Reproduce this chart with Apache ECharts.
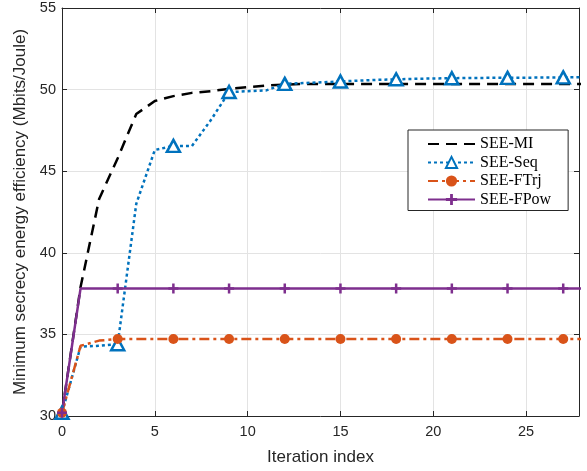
<!DOCTYPE html>
<html>
<head>
<meta charset="utf-8">
<script src="https://cdn.jsdelivr.net/npm/echarts@6/dist/echarts.min.js"></script>
<style>html,body{margin:0;padding:0;background:#fff}#c{width:587px;height:471px}</style>
</head>
<body>
<div id="c"></div>
<script>
var iterations = [0,1,2,3,4,5,6,7,8,9,10,11,12,13,14,15,16,17,18,19,20,21,22,23,24,25,26,27,28];
var seeMI   = [30.2,37.9,43.3,45.8,48.5,49.3,49.6,49.8,49.9,50.05,50.15,50.25,50.3,50.35,50.35,50.35,50.35,50.35,50.35,50.35,50.35,50.35,50.35,50.35,50.35,50.35,50.35,50.35,50.35];
var seeSeq  = [30.2,34.25,34.3,34.4,43.0,46.3,46.55,46.55,48.1,49.85,49.9,49.95,50.35,50.4,50.45,50.5,50.55,50.6,50.63,50.66,50.68,50.7,50.71,50.72,50.72,50.73,50.74,50.75,50.75];
var seeFTrj = [30.2,34.3,34.62,34.72,34.72,34.72,34.72,34.72,34.72,34.72,34.72,34.72,34.72,34.72,34.72,34.72,34.72,34.72,34.72,34.72,34.72,34.72,34.72,34.72,34.72,34.72,34.72,34.72,34.72];
var seeFPow = [30.2,37.82,37.82,37.82,37.82,37.82,37.82,37.82,37.82,37.82,37.82,37.82,37.82,37.82,37.82,37.82,37.82,37.82,37.82,37.82,37.82,37.82,37.82,37.82,37.82,37.82,37.82,37.82,37.82];
var seriesNames = ['SEE-MI','SEE-Seq','SEE-FTrj','SEE-FPow'];
var xTicks = [0,5,10,15,20,25];
var yTicks = [30,35,40,45,50,55];
var markerStep = 3;

function build(vals, marked) {
  return iterations.map(function (x, i) {
    var item = { value: [x, vals[i]] };
    if (!marked || x % markerStep !== 0 || x > 27) item.symbol = 'none';
    return item;
  });
}
var axisColor = '#262626';
var gridColor = '#e3e3e3';
var plusPath = 'path://M3.75,0 H6.25 V3.75 H10 V6.25 H6.25 V10 H3.75 V6.25 H0 V3.75 H3.75 Z';

var chart = echarts.init(document.getElementById('c'), null, { renderer: 'canvas' });
chart.setOption({
  animation: false,
  backgroundColor: '#fff',
  grid: { left: 62, top: 8, right: 8, bottom: 53, containLabel: false },
  xAxis: [{
    type: 'value', min: 0, max: 27.85, interval: 5,
    name: 'Iteration index', nameLocation: 'middle', nameGap: 33,
    nameTextStyle: { fontFamily: 'Liberation Sans', fontSize: 17, color: axisColor },
    axisLine: { show: true, onZero: false, lineStyle: { color: axisColor, width: 1 } },
    axisTick: { show: true, inside: true, length: 5, lineStyle: { color: axisColor } },
    axisLabel: { fontFamily: 'Liberation Sans', fontSize: 14.5, color: axisColor, margin: 8,
      formatter: function (v) { return xTicks.indexOf(v) >= 0 ? String(v) : ''; } },
    splitLine: { show: true, lineStyle: { color: gridColor, width: 1 } }
  }, {
    type: 'value', min: 0, max: 27.85, interval: 5, position: 'top',
    axisLine: { show: true, onZero: false, lineStyle: { color: axisColor, width: 1 } },
    axisTick: { show: true, inside: true, length: 5, lineStyle: { color: axisColor } },
    axisLabel: { show: false }, splitLine: { show: false }
  }],
  yAxis: [{
    type: 'value', min: 30, max: 55, interval: 5,
    name: 'Minimum secrecy energy efficiency (Mbits/Joule)', nameLocation: 'middle', nameGap: 30, nameRotate: 90,
    nameTextStyle: { fontFamily: 'Liberation Sans', fontSize: 17, color: axisColor },
    axisLine: { show: true, onZero: false, lineStyle: { color: axisColor, width: 1 } },
    axisTick: { show: true, inside: true, length: 5, lineStyle: { color: axisColor } },
    axisLabel: { fontFamily: 'Liberation Sans', fontSize: 14.5, color: axisColor, margin: 6,
      formatter: function (v) { return yTicks.indexOf(v) >= 0 ? String(v) : ''; } },
    splitLine: { show: true, lineStyle: { color: gridColor, width: 1 } }
  }, {
    type: 'value', min: 30, max: 55, interval: 5, position: 'right',
    axisLine: { show: true, onZero: false, lineStyle: { color: axisColor, width: 1 } },
    axisTick: { show: true, inside: true, length: 5, lineStyle: { color: axisColor } },
    axisLabel: { show: false }, splitLine: { show: false }
  }],
  legend: {
    orient: 'vertical', left: 408, top: 130,
    data: [
      { name: seriesNames[0], itemStyle: { opacity: 0 } },
      { name: seriesNames[1] },
      { name: seriesNames[2] },
      { name: seriesNames[3] }
    ],
    itemWidth: 47, itemHeight: 14, itemGap: 2.5,
    padding: [6, 17, 3, 19],
    backgroundColor: '#fff', borderColor: axisColor, borderWidth: 1,
    textStyle: { fontFamily: 'Liberation Serif', fontSize: 16, color: '#000' }
  },
  series: [{
    name: seriesNames[0], type: 'line', data: build(seeMI, false), symbol: 'none',
    lineStyle: { color: '#000', width: 2.5, type: [11, 7] }, itemStyle: { color: '#000' }
  }, {
    name: seriesNames[1], type: 'line', data: build(seeSeq, true), symbol: 'triangle', symbolSize: [13, 12],
    showAllSymbol: true,
    lineStyle: { color: '#0072BD', width: 2.5, type: [3, 3] },
    itemStyle: { color: '#fff', borderColor: '#0072BD', borderWidth: 2.5 }
  }, {
    name: seriesNames[2], type: 'line', data: build(seeFTrj, true), symbol: 'circle', symbolSize: 10,
    showAllSymbol: true,
    lineStyle: { color: '#D95319', width: 2.5, type: [10, 4, 3, 4] },
    itemStyle: { color: '#D95319' }
  }, {
    name: seriesNames[3], type: 'line', data: build(seeFPow, true), symbol: plusPath, symbolSize: 10,
    showAllSymbol: true,
    lineStyle: { color: '#7E2F8E', width: 2.5, type: 'solid' },
    itemStyle: { color: '#7E2F8E' }
  }]
});
</script>
</body>
</html>
